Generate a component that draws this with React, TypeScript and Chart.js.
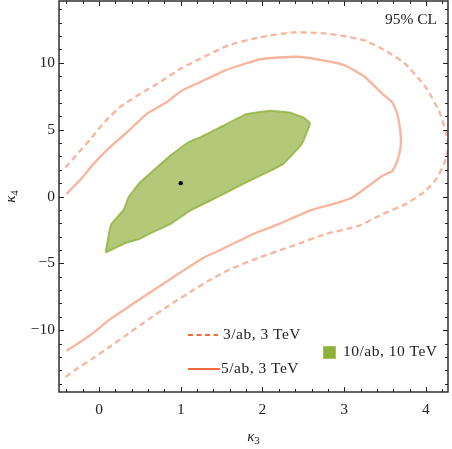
import React, { useEffect, useRef } from "react";
import { Chart, registerables } from "chart.js";

Chart.register(...registerables);

// 3/ab, 3 TeV (dashed) contour
const dashedX = [-0.41, -0.25, -0.09, 0.01, 0.12, 0.25, 0.5, 0.74, 0.99, 1.23, 1.58, 1.96, 2.37, 2.73, 2.98, 3.26, 3.51, 3.75, 4.0, 4.16, 4.24, 4.27, 4.26, 4.22, 4.14, 4.0, 3.75, 3.47, 3.18, 2.77, 2.37, 1.96, 1.6, 1.34, 1.14, 0.85, 0.61, 0.32, 0.12, -0.09, -0.25, -0.41];
const dashedY = [2.17, 3.29, 4.4, 5.16, 5.9, 6.66, 7.66, 8.53, 9.53, 10.28, 11.3, 11.9, 12.27, 12.22, 12.02, 11.65, 10.9, 9.9, 8.15, 6.41, 4.91, 3.9, 3.2, 2.42, 1.42, 0.43, -0.57, -1.32, -2.19, -2.81, -3.69, -4.56, -5.45, -6.3, -7.05, -8.17, -9.17, -10.42, -11.29, -12.16, -12.79, -13.49];

// 5/ab, 3 TeV (solid) contour
const solidX = [-0.4, -0.24, -0.07, 0.13, 0.34, 0.58, 0.82, 1.01, 1.23, 1.55, 1.98, 2.41, 2.77, 3.02, 3.26, 3.47, 3.59, 3.65, 3.69, 3.69, 3.65, 3.59, 3.47, 3.3, 3.1, 2.86, 2.57, 2.2, 1.93, 1.67, 1.42, 1.3, 1.06, 0.81, 0.53, 0.32, 0.12, -0.09, -0.27, -0.4];
const solidY = [0.18, 1.17, 2.42, 3.67, 4.79, 6.16, 7.03, 7.91, 8.53, 9.45, 10.28, 10.45, 10.15, 9.78, 8.9, 7.66, 7.03, 6.16, 4.67, 3.67, 2.67, 1.92, 1.55, 0.8, -0.07, -0.57, -1.07, -2.07, -2.69, -3.44, -4.19, -4.51, -5.43, -6.43, -7.55, -8.42, -9.25, -10.29, -11.04, -11.54];

// 10/ab, 10 TeV (filled) region
const regionX = [0.08, 0.12, 0.15, 0.3, 0.36, 0.5, 0.66, 0.87, 1.09, 1.23, 1.52, 1.8, 2.09, 2.33, 2.5, 2.58, 2.48, 2.25, 2.01, 1.76, 1.44, 1.11, 0.87, 0.61, 0.49, 0.34, 0.08];
const regionY = [-4.19, -2.81, -2.07, -1.0, -0.07, 1.05, 1.92, 3.04, 4.04, 4.41, 5.29, 6.16, 6.41, 6.28, 5.91, 5.46, 3.92, 2.42, 1.67, 0.93, -0.07, -1.07, -2.07, -2.81, -3.19, -3.44, -4.19];

// Best-fit / SM point
const pointX = [1];
const pointY = [1];

const xTickValues = [0, 1, 2, 3, 4];
const yTickValues = [-10, -5, 0, 5, 10];
const xRange = [-0.49, 4.27];
const yRange = [-14.62, 14.62];

const legendLabels = ["3/ab, 3 TeV", "5/ab, 3 TeV", "10/ab, 10 TeV"];
const clLabel = "95% CL";

const FONT = "'Liberation Serif', 'DejaVu Serif', serif";
const ORANGE = "#f26b3a";
const ORANGE_LINE = "rgba(242,107,58,0.5)";
const GREEN = "#8fae3a";

const zip = (xs: number[], ys: number[]) => xs.map((x, i) => ({ x, y: ys[i] }));
const minus = (v: number) => (v < 0 ? "\u2212" + Math.abs(v) : String(v));

const decorPlugin = {
  id: "decor",
  afterDraw(chart: any) {
    const { ctx, chartArea: a, scales } = chart;
    const xs = scales.x;
    const ys = scales.y;
    ctx.save();
    ctx.strokeStyle = "#222";
    ctx.lineWidth = 1;
    ctx.beginPath();
    for (let i = -4; i <= 42; i += 2) {
      const v = i / 10;
      const px = Math.round(xs.getPixelForValue(v)) + 0.5;
      if (px < a.left || px > a.right) continue;
      const len = i % 10 === 0 ? 5 : 3;
      ctx.moveTo(px, a.bottom);
      ctx.lineTo(px, a.bottom - len);
      ctx.moveTo(px, a.top);
      ctx.lineTo(px, a.top + len);
    }
    for (let v = -14; v <= 14; v += 1) {
      const py = Math.round(ys.getPixelForValue(v)) + 0.5;
      const len = v % 5 === 0 ? 5 : 3;
      ctx.moveTo(a.left, py);
      ctx.lineTo(a.left + len, py);
      ctx.moveTo(a.right, py);
      ctx.lineTo(a.right - len, py);
    }
    ctx.stroke();
    ctx.lineWidth = 1.4;
    ctx.strokeRect(a.left, a.top, a.right - a.left, a.bottom - a.top);

    // axis titles
    ctx.fillStyle = "#222";
    ctx.textBaseline = "alphabetic";
    const drawKappa = (sub: string) => {
      ctx.font = `italic 15px ${FONT}`;
      const w1 = ctx.measureText("\u03ba").width;
      ctx.font = `11px ${FONT}`;
      const w2 = ctx.measureText(sub).width;
      const total = w1 + w2;
      ctx.font = `italic 15px ${FONT}`;
      ctx.textAlign = "left";
      ctx.fillText("\u03ba", -total / 2, 0);
      ctx.font = `11px ${FONT}`;
      ctx.fillText(sub, -total / 2 + w1, 2.5);
    };
    ctx.save();
    ctx.translate((a.left + a.right) / 2, 441);
    drawKappa("3");
    ctx.restore();
    ctx.save();
    ctx.translate(15, (a.top + a.bottom) / 2);
    ctx.rotate(-Math.PI / 2);
    drawKappa("4");
    ctx.restore();

    // CL label
    ctx.font = `15.5px ${FONT}`;
    ctx.textAlign = "right";
    ctx.textBaseline = "middle";
    ctx.fillText(clLabel, a.right - 11, a.top + 19);

    // legend
    ctx.textAlign = "left";
    (ctx as any).letterSpacing = "0.5px";
    const lx = a.left + 129;
    ctx.lineWidth = 2;
    ctx.strokeStyle = ORANGE;
    ctx.setLineDash([5, 3.5]);
    ctx.beginPath();
    ctx.moveTo(lx, 335);
    ctx.lineTo(lx + 30, 335);
    ctx.stroke();
    ctx.setLineDash([]);
    ctx.beginPath();
    ctx.moveTo(lx, 369);
    ctx.lineTo(lx + 32, 369);
    ctx.stroke();
    ctx.fillText(legendLabels[0], lx + 35, 335);
    ctx.fillText(legendLabels[1], lx + 33, 369);

    ctx.fillStyle = GREEN;
    ctx.fillRect(a.left + 264, 346, 13, 13);
    ctx.strokeStyle = "#a9c160";
    ctx.lineWidth = 1;
    ctx.strokeRect(a.left + 264.5, 346.5, 12, 12);
    ctx.fillStyle = "#222";
    ctx.fillText(legendLabels[2], a.left + 284, 352);
    (ctx as any).letterSpacing = "0px";
    ctx.restore();
  },
};

export default function App() {
  const ref = useRef<HTMLCanvasElement>(null);
  useEffect(() => {
    document.body.style.margin = "0";
    Chart.defaults.font.family = FONT;
    const chart = new Chart(ref.current!, {
      type: "scatter",
      data: {
        datasets: [
          {
            label: legendLabels[0],
            data: zip(dashedX, dashedY),
            showLine: true,
            borderColor: ORANGE_LINE,
            borderWidth: 2.3,
            borderDash: [6, 4],
            pointRadius: 0,
            tension: 0.15,
            fill: false,
          },
          {
            label: legendLabels[1],
            data: zip(solidX, solidY),
            showLine: true,
            borderColor: ORANGE_LINE,
            borderWidth: 2.3,
            pointRadius: 0,
            tension: 0.15,
            fill: false,
          },
          {
            label: legendLabels[2],
            data: zip(regionX, regionY),
            showLine: true,
            borderColor: "rgba(143,174,58,0.75)",
            backgroundColor: "rgba(143,174,58,0.68)",
            borderWidth: 2,
            pointRadius: 0,
            tension: 0.1,
            fill: "shape",
          } as any,
          {
            label: "point",
            data: zip(pointX, pointY),
            pointRadius: 2.2,
            pointBackgroundColor: "#000",
            pointBorderWidth: 0,
            order: -1,
          },
        ],
      },
      options: {
        responsive: false,
        animation: false,
        layout: { autoPadding: false, padding: { top: 1, right: 4, left: 0, bottom: 0 } },
        plugins: { legend: { display: false }, tooltip: { enabled: false } },
        scales: {
          x: {
            type: "linear",
            min: xRange[0],
            max: xRange[1],
            grid: { display: false, drawTicks: false },
            border: { display: false },
            ticks: { font: { size: 15.5, family: FONT }, color: "#222", padding: 9, callback: (v: any) => minus(Number(v)) },
            afterBuildTicks: (s: any) => {
              s.ticks = xTickValues.map((v) => ({ value: v }));
            },
            afterFit: (s: any) => {
              s.height = 57;
              s.paddingLeft = 0;
              s.paddingRight = 0;
            },
          },
          y: {
            type: "linear",
            min: yRange[0],
            max: yRange[1],
            grid: { display: false, drawTicks: false },
            border: { display: false },
            ticks: { font: { size: 15.5, family: FONT }, color: "#222", padding: 4, callback: (v: any) => minus(Number(v)) },
            afterBuildTicks: (s: any) => {
              s.ticks = yTickValues.map((v) => ({ value: v }));
            },
            afterFit: (s: any) => {
              s.width = 59;
              s.paddingTop = 0;
              s.paddingBottom = 0;
            },
          },
        },
      },
      plugins: [decorPlugin],
    });
    return () => chart.destroy();
  }, []);
  return (
    <canvas
      ref={ref}
      width={452}
      height={449}
      style={{ display: "block", position: "absolute", left: 0, top: 0 }}
    />
  );
}
